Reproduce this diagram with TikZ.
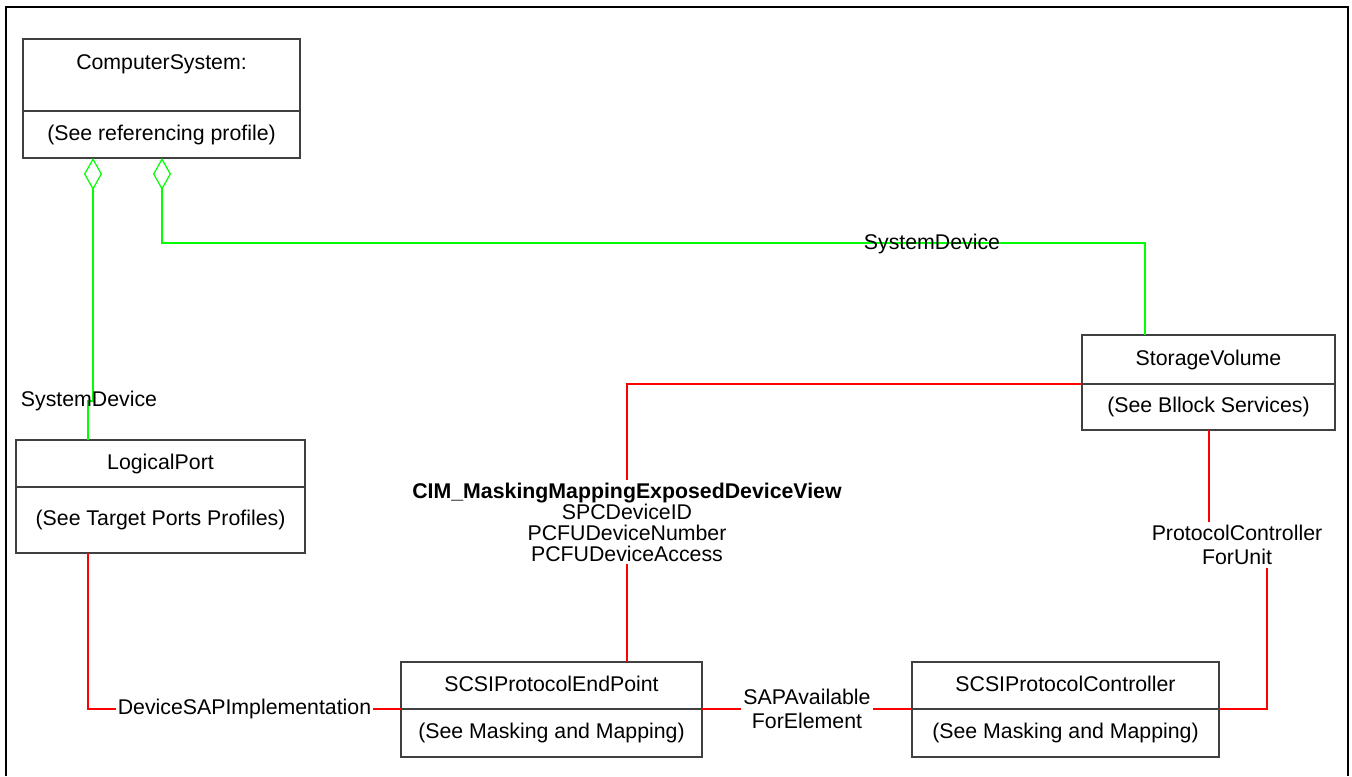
\documentclass[tikz,border=0pt]{standalone}
\usepackage{fontspec}
\setmainfont{Liberation Sans}
\usepackage{tikz}
\usetikzlibrary{positioning, arrows.meta, calc}
\definecolor{Green}{rgb}{0,1,0}
\definecolor{Red}{rgb}{1,0,0}
\tikzstyle{cls}=[%
      rectangle, draw=black!75, line width=0.55pt, fill=none, outer sep=0pt,
      font=\fontsize{10.65}{12.2}\selectfont, inner sep=0pt, align=center,
      text height=0.75em, text depth=0.2em
]
\tikzstyle{lbl}=[%
      font=\fontsize{10.65}{12.2}\selectfont, inner xsep=1pt, inner ysep=1.5pt, align=center
]
\tikzstyle{gen}=[draw=Green, line width=0.8pt]
\tikzstyle{asc}=[draw=Red, line width=0.8pt]

\begin{document}
\begin{tikzpicture}[x=0.5pt, y=-0.5pt]
    \useasboundingbox (0,0) rectangle (1352,776);
    \draw[line width=1pt] (6,776) |- (1348,7) -- (1348,776);

    % classes
    \node[cls, anchor=north west, minimum width=138.5pt, minimum height=36pt, text depth=13pt] (cs) at (23,39) {ComputerSystem:};
    \node[cls, minimum width=138.5pt, minimum height=23.5pt, below=0pt of cs] (cs-body) {(See referencing profile)};

    \node[cls, anchor=north west, minimum width=144.5pt, minimum height=23.5pt] (lp) at (16,440) {LogicalPort};
    \node[cls, minimum width=144.5pt, minimum height=33pt, below=0pt of lp] (lp-body) {(See Target Ports Profiles)};

    \node[cls, anchor=north west, minimum width=126.5pt, minimum height=24.5pt] (sv) at (1082,335) {StorageVolume};
    \node[cls, minimum width=126.5pt, minimum height=23pt, below=0pt of sv] (sv-body) {(See Bllock Services)};

    \node[cls, anchor=north west, minimum width=150.5pt, minimum height=23.5pt] (ep) at (401,662) {SCSIProtocolEndPoint};
    \node[cls, minimum width=150.5pt, minimum height=24pt, below=0pt of ep] (ep-body) {(See Masking and Mapping)};

    \node[cls, anchor=north west, minimum width=153.5pt, minimum height=23.5pt] (pc) at (912,662) {SCSIProtocolController};
    \node[cls, minimum width=153.5pt, minimum height=24pt, below=0pt of pc] (pc-body) {(See Masking and Mapping)};

    % SystemDevice
    \draw[gen, {Diamond[open, length=16pt, width=9pt, line width=0.6pt]}-] ($(cs-body.south west)+(70,0)$) -- ++(0,243) -| ($(lp.north west)+(72,0)$);
    \node[lbl] (sd-left) at (89,401) {SystemDevice};
    \draw[gen, {Diamond[open, length=16pt, width=9pt, line width=0.6pt]}-] ($(cs-body.south west)+(139,0)$) |- ($(sv.north west)+(63,-92)$) -- ($(sv.north west)+(63,0)$);
    \node[lbl] (sd-right) at (932,244) {SystemDevice};

    % associations
    \draw[asc] ($(lp-body.south west)+(72,0)$) |- (ep-body.north west)
        node[lbl, fill=white, pos=0.75] (dsi) {DeviceSAPImplementation};
    \draw[asc] (ep-body.north east) -- (pc-body.north west)
        node[lbl, fill=white, midway] (saf) {SAPAvailable\\ForElement};
    \draw[asc] ($(sv-body.south west)+(127,0)$) -- ++(0,115) -| ($(pc-body.north east)+(48,0)$) -- (pc-body.north east);
    \node[lbl, fill=white] (pcfu) at (1237,545) {ProtocolController\\ForUnit};
    \draw[asc] (sv-body.north west) -| ($(ep.north west)+(226,0)$);
    \node[lbl, fill=white, font=\fontsize{10.65}{10.5}\selectfont] (mmedv) at (627,522)
        {\textbf{CIM\_MaskingMappingExposedDeviceView}\\SPCDeviceID\\PCFUDeviceNumber\\PCFUDeviceAccess};
\end{tikzpicture}
\end{document}
